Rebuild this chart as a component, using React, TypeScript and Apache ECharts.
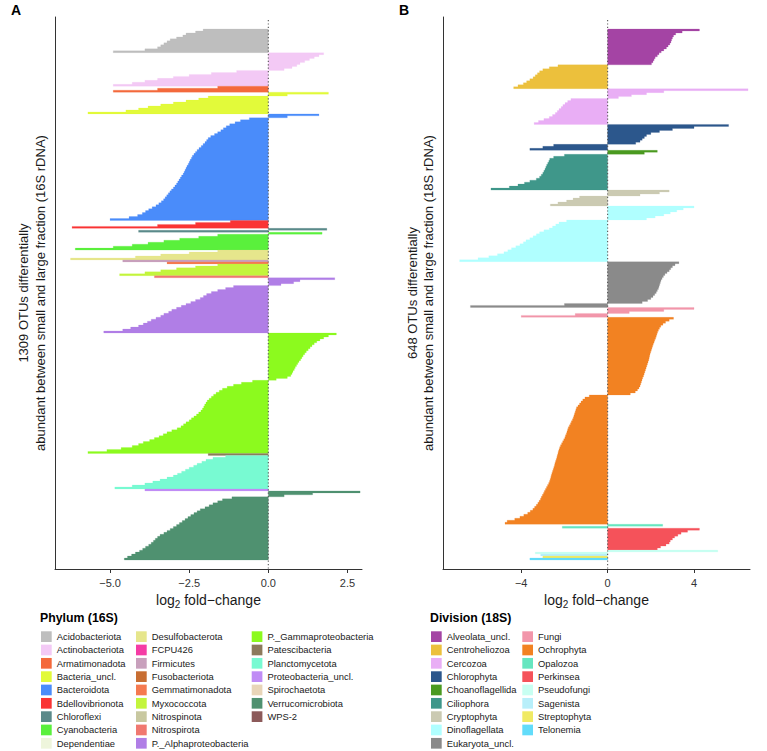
import React, { useEffect, useRef } from "react";
import * as echarts from "echarts";

const FONT = "'Liberation Sans', Arial, Helvetica, sans-serif";

// ---------- Panel A (16S) : log2 fold-change per OTU row, each group sorted descending ----------
const acidobacteriota = [-2.06, -2.3, -2.6, -2.7, -2.9, -3.1, -3.2, -3.3, -3.4, -3.5, -3.9, -4.9];
const actinobacteriota = [1.75, 1.6, 1.45, 1.3, 1.15, 1.0, 0.9, 0.75, 0.5, -1.0, -1.8, -2.5, -3.0, -3.5, -3.9, -4.3, -4.9];
const armatimonadota = [-1.6, -3.5, -4.9];
const bacteriaUncl = [1.9, 0.6, -1.9, -2.2, -2.6, -3.0, -3.4, -3.8, -4.1, -4.5, -5.7];
const bacteroidota = [1.6, 0.6, -0.6, -0.88, -1.05, -1.22, -1.33, -1.42, -1.5, -1.6, -1.7, -1.82, -1.9, -1.95, -2.0, -2.06, -2.12, -2.19, -2.25, -2.3, -2.35, -2.4, -2.43, -2.47, -2.5, -2.53, -2.57, -2.6, -2.63, -2.66, -2.69, -2.74, -2.78, -2.82, -2.86, -2.9, -2.95, -3.0, -3.06, -3.11, -3.16, -3.21, -3.26, -3.31, -3.38, -3.46, -3.55, -3.67, -3.78, -3.88, -3.98, -4.13, -4.4, -5.0];
const bdellovibrionota = [-1.2, -2.3, -3.5, -6.2];
const chloroflexi = [1.85, -4.1];
const cyanobacteria = [1.7, -1.6, -2.2, -2.8, -3.3, -3.8, -4.3, -4.9, -6.1];
const dependentiae: number[] = [];
const desulfobacterota = [-1.6, -2.5, -3.4, -4.2, -6.25];
const fcpu426: number[] = [];
const firmicutes = [-4.6];
const fusobacteriota: number[] = [];
const gemmatimonadota = [-3.2];
const myxococcota = [-1.6, -2.3, -2.9, -3.4, -3.9, -4.7];
const nitrospinota: number[] = [];
const nitrospirota = [-3.6];
const alphaproteo = [2.1, 1.0, 0.8, 0.4, -1.1, -1.35, -1.6, -1.8, -1.95, -2.05, -2.15, -2.3, -2.45, -2.6, -2.75, -2.9, -3.05, -3.15, -3.3, -3.4, -3.55, -3.7, -3.82, -3.95, -4.1, -4.35, -4.6, -5.2];
const gammaproteo = [2.15, 1.9, 1.75, 1.63, 1.53, 1.45, 1.38, 1.32, 1.26, 1.2, 1.15, 1.1, 1.06, 1.02, 0.97, 0.93, 0.89, 0.85, 0.82, 0.78, 0.75, 0.71, 0.6, 0.25,
  -0.5, -0.85, -1.1, -1.3, -1.45, -1.55, -1.65, -1.73, -1.8, -1.87, -1.93, -1.97, -2.01, -2.04, -2.08, -2.13, -2.2, -2.27, -2.35, -2.43, -2.5, -2.6, -2.68, -2.76, -2.88, -3.05, -3.2, -3.32, -3.45, -3.6, -3.75, -3.95, -4.1, -4.3, -4.65, -5.1, -5.7];
const patescibacteria = [-1.9];
const planctomycetota = [-1.35, -1.75, -1.97, -2.1, -2.25, -2.36, -2.5, -2.62, -2.74, -2.87, -3.0, -3.2, -3.42, -3.65, -3.9, -4.3, -4.85];
const proteobacteriaUncl = [-3.9];
const spirochaetota: number[] = [];
const verrucomicrobiota = [2.9, 1.4, 0.5, -1.15, -1.45, -1.6, -1.75, -1.87, -2.0, -2.15, -2.25, -2.35, -2.45, -2.54, -2.63, -2.72, -2.81, -2.9, -3.0, -3.1, -3.2, -3.3, -3.42, -3.5, -3.57, -3.63, -3.7, -3.78, -3.88, -3.97, -4.07, -4.2, -4.32, -4.45, -4.55];
const wps2: number[] = [];

// ---------- Panel B (18S) ----------
const alveolataUncl = [4.25, 3.45, 3.15, 3.05, 3.0, 2.96, 2.93, 2.88, 2.8, 2.72, 2.6, 2.48, 2.38, 2.3, 2.2, 2.15, 2.1, 2.03];
const centroheliozoa = [-2.3, -2.7, -3.0, -3.15, -3.25, -3.35, -3.45, -3.6, -3.75, -3.9, -4.15, -4.35];
const cercozoa = [6.5, 2.6, 1.8, 1.1, 0.5, -1.7, -1.85, -1.97, -2.07, -2.15, -2.25, -2.33, -2.42, -2.55, -2.7, -2.95, -3.2, -3.4];
const chlorophyta = [5.6, 4.0, 3.0, 2.4, 2.0, 1.8, 1.7, 1.6, 1.5, 1.3, -2.5, -3.0, -3.6];
const choanoflagellida = [2.3, 1.7];
const ciliophora = [-2.0, -2.5, -2.68, -2.72, -2.77, -2.82, -2.86, -2.9, -2.95, -3.0, -3.07, -3.15, -3.3, -3.6, -3.85, -4.15, -4.55, -5.4];
const cryptophyta = [2.85, 2.4, 1.5, -1.3, -1.6, -1.9, -2.3, -2.65];
const dinoflagellata = [4.0, 3.5, 3.2, 2.9, 2.6, 2.2, 1.8, -1.9, -2.25, -2.4, -2.55, -2.7, -2.95, -3.15, -3.3, -3.45, -3.6, -3.78, -3.9, -4.06, -4.25, -4.45, -4.62, -4.8, -5.1, -5.5, -6.0, -6.85];
const eukaryotaUncl = [3.3, 3.12, 3.0, 2.92, 2.85, 2.75, 2.65, 2.58, 2.52, 2.47, 2.44, 2.41, 2.38, 2.35, 2.3, 2.25, 2.18, 2.1, 2.0, 1.85, 1.6, -2.0, -6.35];
const fungi = [4.0, 2.6, 1.0, -1.5, -4.0];
const ochrophyta = [3.05, 2.85, 2.68, 2.56, 2.46, 2.4, 2.35, 2.31, 2.28, 2.25, 2.22, 2.18, 2.15, 2.11, 2.08, 2.05, 2.02, 1.99, 1.96, 1.94, 1.92, 1.9, 1.87, 1.84, 1.81, 1.78, 1.75, 1.72, 1.69, 1.66, 1.62, 1.59, 1.56, 1.53, 1.5, 1.45, 1.38, 1.28, 1.05,
  -0.85, -1.05, -1.15, -1.23, -1.3, -1.37, -1.44, -1.47, -1.5, -1.53, -1.56, -1.59, -1.63, -1.68, -1.72, -1.77, -1.82, -1.85, -1.88, -1.91, -1.95, -1.98, -2.03, -2.08, -2.13, -2.18, -2.22, -2.25, -2.28, -2.3, -2.33, -2.35, -2.38, -2.41, -2.44, -2.46, -2.49, -2.52, -2.55, -2.58, -2.61, -2.63, -2.66, -2.69, -2.73, -2.78, -2.83, -2.88, -2.93, -2.97, -3.02, -3.07, -3.11, -3.17, -3.23, -3.3, -3.38, -3.46, -3.58, -3.7, -3.88, -4.06, -4.3, -4.65, -4.75];
const opalozoa = [2.55, -2.1];
const perkinsea = [4.25, 3.7, 3.4, 3.25, 3.1, 3.0, 2.9, 2.85, 2.7, 2.45, 2.3];
const pseudofungi = [5.1, -3.35];
const sagenista = [-3.1];
const streptophyta = [-3.0];
const telonemia = [-3.6];

// ---------- tick labels ----------
const ticksA = [-5, -2.5, 0, 2.5];
const ticksB = [-4, 0, 4];

const groupsA = [
  { name: "Acidobacteriota", color: "#bebebe", values: acidobacteriota },
  { name: "Actinobacteriota", color: "#f3c9f5", values: actinobacteriota },
  { name: "Armatimonadota", color: "#f4693c", values: armatimonadota },
  { name: "Bacteria_uncl.", color: "#e2fa3a", values: bacteriaUncl },
  { name: "Bacteroidota", color: "#4a8cfa", values: bacteroidota },
  { name: "Bdellovibrionota", color: "#fa3434", values: bdellovibrionota },
  { name: "Chloroflexi", color: "#5b8a8a", values: chloroflexi },
  { name: "Cyanobacteria", color: "#5af03c", values: cyanobacteria },
  { name: "Dependentiae", color: "#eef5dc", values: dependentiae },
  { name: "Desulfobacterota", color: "#e6e68c", values: desulfobacterota },
  { name: "FCPU426", color: "#f53ca5", values: fcpu426 },
  { name: "Firmicutes", color: "#c8a0bc", values: firmicutes },
  { name: "Fusobacteriota", color: "#c86e32", values: fusobacteriota },
  { name: "Gemmatimonadota", color: "#f57a50", values: gemmatimonadota },
  { name: "Myxococcota", color: "#c3f53c", values: myxococcota },
  { name: "Nitrospinota", color: "#c8c8a0", values: nitrospinota },
  { name: "Nitrospirota", color: "#f07870", values: nitrospirota },
  { name: "P._Alphaproteobacteria", color: "#b07ee6", values: alphaproteo },
  { name: "P._Gammaproteobacteria", color: "#8cfa1e", values: gammaproteo },
  { name: "Patescibacteria", color: "#8c7a5c", values: patescibacteria },
  { name: "Planctomycetota", color: "#78fad2", values: planctomycetota },
  { name: "Proteobacteria_uncl.", color: "#c08cf5", values: proteobacteriaUncl },
  { name: "Spirochaetota", color: "#e8d5b8", values: spirochaetota },
  { name: "Verrucomicrobiota", color: "#4f9170", values: verrucomicrobiota },
  { name: "WPS-2", color: "#8c5a5a", values: wps2 },
];

const groupsB = [
  { name: "Alveolata_uncl.", color: "#a444a4", values: alveolataUncl },
  { name: "Centroheliozoa", color: "#ecc03c", values: centroheliozoa },
  { name: "Cercozoa", color: "#e9aef5", values: cercozoa },
  { name: "Chlorophyta", color: "#2c578c", values: chlorophyta },
  { name: "Choanoflagellida", color: "#4a9a20", values: choanoflagellida },
  { name: "Ciliophora", color: "#3f978a", values: ciliophora },
  { name: "Cryptophyta", color: "#cbcab2", values: cryptophyta },
  { name: "Dinoflagellata", color: "#b0ffff", values: dinoflagellata },
  { name: "Eukaryota_uncl.", color: "#8a8a8a", values: eukaryotaUncl },
  { name: "Fungi", color: "#f296aa", values: fungi },
  { name: "Ochrophyta", color: "#f28222", values: ochrophyta },
  { name: "Opalozoa", color: "#66e6c0", values: opalozoa },
  { name: "Perkinsea", color: "#f5525a", values: perkinsea },
  { name: "Pseudofungi", color: "#c8fff2", values: pseudofungi },
  { name: "Sagenista", color: "#b8effa", values: sagenista },
  { name: "Streptophyta", color: "#f0ea64", values: streptophyta },
  { name: "Telonemia", color: "#62dcfa", values: telonemia },
];

type Group = { name: string; color: string; values: number[] };

function minusify(s: string) {
  return s.replace("-", "\u2212");
}

// Each group is drawn as one stepped outline (one step per OTU row),
// every vertex placed through the cartesian scales with api.coord.
function panelSeries(groups: Group[], idx: number) {
  const series: any[] = [];
  let row = 0;
  groups.forEach((g) => {
    const color = g.color;
    const start = row;
    const vals = g.values;
    const data = vals.map((v, k) => [v, start + k]);
    row += vals.length;
    series.push({
      type: "custom",
      name: g.name,
      xAxisIndex: idx,
      yAxisIndex: idx,
      silent: true,
      itemStyle: { color },
      encode: { x: 0, y: 1 },
      data,
      renderItem: (params: any, api: any) => {
        if (params.dataIndex !== 0) return { type: "group", children: [] };
        const pts: number[][] = [];
        pts.push(api.coord([0, start]));
        vals.forEach((v, k) => {
          pts.push(api.coord([v, start + k]));
          pts.push(api.coord([v, start + k + 1]));
        });
        pts.push(api.coord([0, start + vals.length]));
        return {
          type: "polygon",
          shape: { points: pts },
          style: { fill: color, stroke: color, lineWidth: 0.2 },
        };
      },
    });
  });
  return { series, total: row };
}

function buildOption() {
  const pa = panelSeries(groupsA, 0);
  const pb = panelSeries(groupsB, 1);
  const pads = (n: number) => [n * (12 / 531), n * (9 / 531)];
  const [taA, baA] = pads(pa.total);
  const [taB, baB] = pads(pb.total);
  const yRange = [
    [-taA, pa.total + baA],
    [-taB, pb.total + baB],
  ];

  const zeroSeries = (idx: number) => ({
    type: "custom",
    name: "zero" + idx,
    xAxisIndex: idx,
    yAxisIndex: idx,
    silent: true,
    z: 5,
    encode: { x: 0, y: [1, 2] },
    data: [[0, yRange[idx][0], yRange[idx][1]]],
    renderItem: (_p: any, api: any) => {
      const a = api.coord([0, api.value(1)]);
      const b = api.coord([0, api.value(2)]);
      return {
        type: "line",
        shape: { x1: a[0], y1: a[1] + 3, x2: b[0], y2: b[1] },
        style: { stroke: "#555555", lineWidth: 1.1, lineDash: [1.2, 2.2] },
      };
    },
  });

  const axisName = "{a|log}{s|2}{a| fold\u2212change}";
  const nameStyle = {
    color: "#1a1a1a",
    fontSize: 14,
    fontFamily: FONT,
    rich: {
      a: { fontSize: 14, fontFamily: FONT, color: "#1a1a1a", verticalAlign: "top", lineHeight: 16 },
      s: { fontSize: 10, fontFamily: FONT, color: "#1a1a1a", verticalAlign: "top", lineHeight: 10, padding: [7, 0, 0, 0] },
    },
  };

  const xAxisFor = (idx: number, min: number, max: number, ticks: number[], fmt: (v: number) => string) => ({
    type: "value",
    gridIndex: idx,
    min,
    max,
    axisLine: { show: true, onZero: false, lineStyle: { color: "#333333", width: 1 } },
    axisTick: { show: true, length: 4, customValues: ticks, lineStyle: { color: "#333333", width: 1 } },
    axisLabel: { show: true, customValues: ticks, color: "#333333", fontSize: 11, fontFamily: FONT, margin: 8, formatter: fmt },
    splitLine: { show: false },
    name: axisName,
    nameLocation: "middle",
    nameGap: 21,
    nameTextStyle: nameStyle,
  });

  const yAxisFor = (idx: number) => ({
    type: "value",
    gridIndex: idx,
    inverse: true,
    min: yRange[idx][0],
    max: yRange[idx][1],
    axisLine: { show: true, onZero: false, lineStyle: { color: "#333333", width: 1 } },
    axisTick: { show: false },
    axisLabel: { show: false },
    splitLine: { show: false },
  });

  const legendBase = {
    orient: "vertical",
    icon: "rect",
    itemWidth: 10.7,
    itemHeight: 10.7,
    itemGap: 2.63,
    padding: 0,
    selectedMode: false,
    top: 631.3,
    itemStyle: { borderWidth: 0 },
    textStyle: { fontSize: 9.4, color: "#1a1a1a", fontFamily: FONT },
  };
  const namesA = groupsA.map((g) => g.name);
  const namesB = groupsB.map((g) => g.name);

  const titleStyle = (size: number) => ({ fontSize: size, fontWeight: "bold", color: "#000000", fontFamily: FONT });
  const yTitle = (x: number, line1: string, line2: string) => ({
    type: "text",
    x,
    y: 293,
    rotation: Math.PI / 2,
    style: {
      text: line1 + "\n" + line2,
      fontSize: 13,
      fontFamily: FONT,
      lineHeight: 16.5,
      fill: "#1a1a1a",
      align: "center",
      verticalAlign: "middle",
      textAlign: "center",
      textVerticalAlign: "middle",
    },
  });

  return {
    animation: false,
    textStyle: { fontFamily: FONT },
    title: [
      { text: "A", left: 11, top: 3, padding: 0, textStyle: titleStyle(14) },
      { text: "B", left: 399, top: 3, padding: 0, textStyle: titleStyle(14) },
      { text: "Phylum (16S)", left: 40, top: 612, padding: 0, textStyle: titleStyle(12.3) },
      { text: "Division (18S)", left: 430, top: 612, padding: 0, textStyle: titleStyle(12.3) },
    ],
    grid: [
      { left: 55, top: 17, width: 307, height: 552, containLabel: false, outerBoundsMode: "none" },
      { left: 443, top: 17, width: 307, height: 552, containLabel: false, outerBoundsMode: "none" },
    ],
    xAxis: [
      xAxisFor(0, -6.74, 2.96, ticksA, (v: number) => minusify(v.toFixed(1))),
      xAxisFor(1, -7.62, 6.59, ticksB, (v: number) => minusify(String(v))),
    ],
    yAxis: [yAxisFor(0), yAxisFor(1)],
    legend: [
      { ...legendBase, left: 41, data: namesA.slice(0, 9) },
      { ...legendBase, left: 136, data: namesA.slice(9, 18) },
      { ...legendBase, left: 251.7, data: namesA.slice(18) },
      { ...legendBase, left: 431, data: namesB.slice(0, 9) },
      { ...legendBase, left: 522.3, data: namesB.slice(9) },
    ],
    graphic: [
      yTitle(32, "1309 OTUs differentially", "abundant between small and large fraction (16S rDNA)"),
      yTitle(420.5, "648 OTUs differentially", "abundant between small and large fraction (18S rDNA)"),
    ],
    series: [...pa.series, ...pb.series, zeroSeries(0), zeroSeries(1)],
  };
}

export default function App() {
  const ref = useRef<HTMLDivElement>(null);
  useEffect(() => {
    if (!ref.current) return;
    const chart = echarts.init(ref.current, null, { renderer: "svg", width: 767, height: 751 });
    chart.setOption(buildOption() as any);
    return () => chart.dispose();
  }, []);
  return (
    <div
      ref={ref}
      style={{ width: 767, height: 751, position: "absolute", left: 0, top: 0, background: "#ffffff" }}
    />
  );
}
